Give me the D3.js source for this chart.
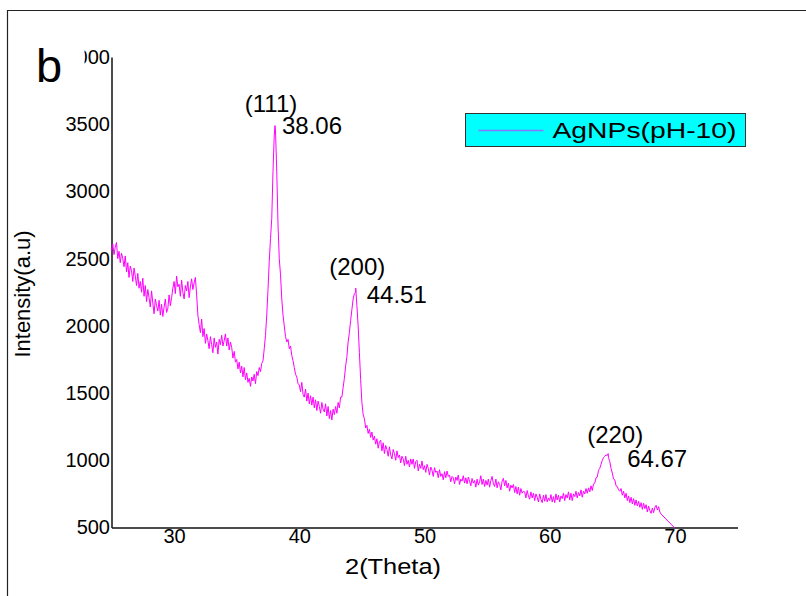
<!DOCTYPE html>
<html>
<head>
<meta charset="utf-8">
<script src="https://cdn.jsdelivr.net/npm/d3@7"></script>
<style>
  body { margin: 0; background: #fff; }
  svg { display: block; font-family: "Liberation Sans", Arial, sans-serif; }
</style>
</head>
<body>
<svg id="chart" width="806" height="596"></svg>
<script>
// XRD pattern of silver nanoparticles prepared at pH 10
// Scan sampled every 0.1 degree 2-theta starting at 25.0
const thetaStart = 25;
const thetaStep = 0.1;
const intensity = [
  2560, 2610, 2530, 2585, 2620, 2500, 2555, 2470, 2540, 2500, // 25
  2440, 2520, 2400, 2470, 2360, 2445, 2410, 2330, 2430, 2370, // 26
  2300, 2390, 2280, 2330, 2250, 2355, 2220, 2300, 2180, 2270, // 27
  2210, 2140, 2260, 2170, 2090, 2200, 2150, 2110, 2190, 2080, // 28
  2160, 2070, 2140, 2200, 2100, 2130, 2230, 2150, 2210, 2280, // 29
  2330, 2240, 2370, 2290, 2310, 2220, 2340, 2250, 2200, 2300, // 30
  2260, 2330, 2210, 2290, 2350, 2270, 2320, 2360, 2230, 2080, // 31
  2010, 1950, 2050, 1920, 1980, 1870, 1940, 1890, 1830, 1920, // 32
  1860, 1800, 1910, 1840, 1880, 1790, 1900, 1860, 1930, 1850, // 33
  1890, 1940, 1850, 1910, 1820, 1880, 1840, 1760, 1810, 1730, // 34
  1750, 1680, 1730, 1650, 1700, 1620, 1690, 1600, 1650, 1580, // 35
  1610, 1550, 1620, 1590, 1640, 1570, 1660, 1630, 1690, 1660, // 36
  1720, 1740, 1830, 1930, 2080, 2270, 2480, 2650, 2800, 3150, // 37
  3420, 3450, 3150, 2750, 2500, 2380, 2200, 2080, 2000, 1920, // 38
  1880, 1900, 1830, 1850, 1780, 1740, 1690, 1640, 1620, 1570, // 39
  1560, 1510, 1580, 1490, 1470, 1530, 1440, 1500, 1420, 1480, // 40
  1410, 1470, 1390, 1450, 1370, 1440, 1400, 1350, 1430, 1380, // 41
  1360, 1420, 1330, 1400, 1310, 1370, 1300, 1380, 1340, 1400, // 42
  1350, 1430, 1390, 1470, 1470, 1540, 1610, 1700, 1770, 1880, // 43
  1950, 2040, 2120, 2200, 2240, 2250, 2150, 2000, 1800, 1600, // 44
  1430, 1340, 1310, 1240, 1260, 1200, 1230, 1170, 1210, 1150, // 45
  1180, 1120, 1160, 1090, 1140, 1150, 1070, 1130, 1050, 1110, // 46
  1080, 1030, 1100, 1040, 1010, 1080, 1050, 1000, 1070, 1020, // 47
  1040,  980, 1030, 1010,  960, 1030,  970, 1000,  950, 1010, // 48
   970, 1010,  940,  990, 1000,  920,  970,  940,  995,  930, // 49
   960,  910,  970,  940,  890,  950,  925,  880,  945,  910, // 50
   920,  870,  930,  880,  900,  855,  915,  870,  920,  880, // 51
   890,  840,  880,  870,  825,  875,  850,  890,  820,  860, // 52
   845,  885,  830,  870,  825,  875,  845,  810,  865,  830, // 53
   850,  800,  860,  815,  840,  885,  820,  860,  805,  850, // 54
   815,  860,  800,  850,  880,  825,  805,  860,  795,  840, // 55
   820,  780,  845,  865,  810,  850,  795,  830,  770,  815, // 56
   795,  820,  760,  805,  750,  800,  740,  790,  755,  770, // 57
   765,  720,  775,  735,  710,  765,  720,  755,  700,  750, // 58
   725,  690,  750,  710,  685,  740,  695,  745,  690,  720, // 59
   700,  745,  690,  730,  685,  750,  705,  740,  690,  735, // 60
   715,  755,  700,  745,  720,  765,  705,  755,  700,  750, // 61
   730,  770,  720,  760,  735,  780,  725,  770,  750,  790, // 62
   755,  795,  765,  810,  775,  825,  830,  870,  875,  925, // 63
   940,  970, 1000, 1020, 1030, 1040, 1035, 1020,  990,  940, // 64
   905,  860,  855,  810,  805,  780,  770,  790,  740,  770, // 65
   720,  755,  700,  735,  685,  725,  675,  715,  665,  705, // 66
   660,  695,  650,  685,  635,  680,  640,  670,  615,  660, // 67
   625,  605,  645,  610,  650,  665,  630,  655,  615,  600  // 68
];
// end of the scan
const tailTheta = [70.0];
const tailIntensity = [495];

// indexed reflections of fcc silver
const peakTheta = [38.06, 44.51, 64.67];
const peakIntensity = [3490, 2280, 1050];
const peakHkl = ["(111)", "(200)", "(220)"];

const xTicks = [30, 40, 50, 60, 70];
const yTicks = [500, 1000, 1500, 2000, 2500, 3000, 3500, 4000];
const seriesName = "AgNPs(pH-10)";
const xTitle = "2(Theta)";
const yTitle = "Intensity(a.u)";
const panelLetter = "b";

// ---- assemble the trace ----
const points = intensity.map((v, i) => [+(thetaStart + i * thetaStep).toFixed(2), v])
  .concat(peakTheta.map((t, i) => [t, peakIntensity[i]]))
  .concat(tailTheta.map((t, i) => [t, tailIntensity[i]]))
  .sort((a, b) => a[0] - b[0]);

const svg = d3.select("#chart");
const x = d3.scaleLinear().domain([25, 75]).range([111.5, 737.5]);
const y = d3.scaleLinear().domain([500, 4000]).range([527.5, 57]);

// panel frame (top and left edges)
svg.append("path")
  .attr("d", "M7.5,596V10.5H806")
  .attr("fill", "none").attr("stroke", "#222").attr("stroke-width", 1.2);

// axes
const yAxis = svg.append("g")
  .attr("transform", `translate(${x.range()[0]},0)`)
  .call(d3.axisLeft(y).tickValues(yTicks).tickSize(0).tickPadding(1.5).tickFormat(d3.format("d")));
const xAxis = svg.append("g")
  .attr("transform", `translate(0,${y.range()[0]})`)
  .call(d3.axisBottom(x).tickValues(xTicks).tickSize(0).tickPadding(1.5).tickFormat(d3.format("d")));
[xAxis, yAxis].forEach(g => {
  g.select(".domain").attr("stroke", "#111").attr("stroke-width", 1.5);
  g.selectAll("text").attr("font-size", 20).attr("fill", "#000")
    .attr("font-family", "'Liberation Sans', Arial, sans-serif");
});

// trace
const line = d3.line().x(d => x(d[0])).y(d => y(d[1]));
svg.append("path")
  .datum(points)
  .attr("d", line)
  .attr("fill", "none")
  .attr("stroke", "#ff00ff")
  .attr("stroke-width", 1)
  .attr("stroke-linejoin", "round");

// peak annotations
const hklDx = [-4, 1.5, 7], hklDy = [-14, -13, -11];
const valDx = [7, 11, 19], valDy = [8, 15, 13];
const fmt = d3.format(".2f");
peakTheta.forEach((t, i) => {
  const px = x(t), py = y(peakIntensity[i]);
  svg.append("text").attr("x", px + hklDx[i]).attr("y", py + hklDy[i])
    .attr("text-anchor", "middle").attr("font-size", 24).attr("fill", "#000")
    .text(peakHkl[i]);
  svg.append("text").attr("x", px + valDx[i]).attr("y", py + valDy[i])
    .attr("font-size", 24).attr("fill", "#000")
    .text(fmt(t));
});

// legend
const lg = svg.append("g").attr("transform", "translate(465.5,113.5)");
lg.append("rect").attr("width", 280).attr("height", 33)
  .attr("fill", "#00ffff").attr("stroke", "#333").attr("stroke-width", 1);
lg.append("line").attr("x1", 13).attr("x2", 78).attr("y1", 17).attr("y2", 17)
  .attr("stroke", "#ff00ff").attr("stroke-opacity", 0.55).attr("stroke-width", 1.5);
lg.append("text").attr("x", 87).attr("y", 24).attr("font-size", 22).attr("fill", "#000")
  .attr("textLength", 184).attr("lengthAdjust", "spacingAndGlyphs")
  .text(seriesName);

// axis titles
svg.append("text").attr("x", 393).attr("y", 574).attr("text-anchor", "middle")
  .attr("font-size", 22).attr("fill", "#000")
  .attr("textLength", 96).attr("lengthAdjust", "spacingAndGlyphs")
  .text(xTitle);
svg.append("text").attr("transform", "translate(30,294) rotate(-90)")
  .attr("text-anchor", "middle").attr("font-size", 22).attr("fill", "#000")
  .text(yTitle);

// panel letter on its own white patch
svg.append("rect").attr("x", 20).attr("y", 30).attr("width", 64.5).attr("height", 62).attr("fill", "#fff");
svg.append("text").attr("x", 36).attr("y", 82).attr("font-size", 47).attr("fill", "#000")
  .text(panelLetter);
</script>
</body>
</html>
